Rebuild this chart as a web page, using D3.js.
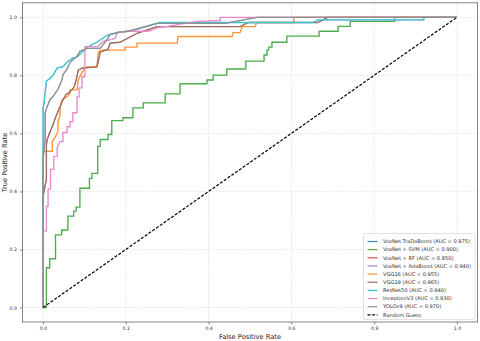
<!DOCTYPE html>
<html><head><meta charset="utf-8">
<script src="https://cdn.jsdelivr.net/npm/d3@7"></script>
<style>html,body{margin:0;padding:0;background:#fff;}svg{display:block;font-family:"DejaVu Sans",sans-serif;}</style>
</head><body><div id="chart"></div>
<script>
// ---- data ----
const seriesNames = ["VoxNet TraDaBoost (AUC = 0.975)","VoxNet + SVM (AUC = 0.900)","VoxNet + RF (AUC = 0.850)","VoxNet + AdaBoost (AUC = 0.940)","VGG16 (AUC = 0.955)","VGG19 (AUC = 0.965)","ResNet50 (AUC = 0.940)","InceptionV3 (AUC = 0.930)","YOLOv9 (AUC = 0.970)"];
const seriesColors = ["#1f77b4","#2ca02c","#d62728","#9467bd","#ff7f0e","#8c564b","#17becf","#e377c2","#7f7f7f"];
const xTicks = [0,0.2,0.4,0.6,0.8,1.0];
const yTicks = [0,0.2,0.4,0.6,0.8,1.0];

const yoloFpr = [0,0,0.005,0.005,0.01,0.017,0.024,0.036,0.046,0.048,0.058,0.065,0.082,0.089,0.106,0.138,0.155,0.162,0.181,0.205,0.222,0.275,0.44,0.517,1];
const yoloTpr = [0,0.51,0.58,0.672,0.693,0.717,0.727,0.752,0.786,0.803,0.821,0.845,0.866,0.883,0.893,0.893,0.924,0.941,0.948,0.952,0.958,0.979,0.979,1,1];

const tradaFpr = [0,0,0.005,0.005,0.01,0.017,0.024,0.036,0.046,0.048,0.058,0.065,0.082,0.089,0.106,0.138,0.155,0.162,0.181,0.205,0.222,0.275,0.44,0.517,1];
const tradaTpr = [0,0.51,0.58,0.672,0.693,0.717,0.727,0.752,0.786,0.803,0.821,0.845,0.866,0.883,0.893,0.893,0.924,0.941,0.948,0.952,0.958,0.979,0.979,1,1];

const svmFpr = [0,0.008,0.016,0.03,0.045,0.06,0.074,0.08,0.089,0.112,0.118,0.132,0.138,0.157,0.166,0.193,0.217,0.242,0.295,0.331,0.396,0.411,0.444,0.49,0.534,0.541,0.545,0.553,0.589,0.667,0.713,0.742,0.85,1];
const svmTpr = [0,0.137,0.168,0.25,0.267,0.315,0.332,0.346,0.411,0.445,0.462,0.555,0.579,0.596,0.644,0.654,0.688,0.705,0.736,0.771,0.784,0.801,0.822,0.849,0.870,0.887,0.897,0.914,0.935,0.952,0.969,0.986,1,1];

const vgg19Fpr = [0,0,0.008,0.008,0.01,0.017,0.024,0.031,0.041,0.048,0.055,0.065,0.075,0.08,0.085,0.094,0.13,0.133,0.138,0.157,0.162,0.186,0.227,0.275,0.476,0.495,0.664,0.688,1];
const vgg19Tpr = [0,0.384,0.442,0.56,0.579,0.606,0.63,0.658,0.692,0.716,0.733,0.743,0.76,0.784,0.818,0.825,0.829,0.846,0.88,0.89,0.911,0.914,0.945,0.968,0.968,0.982,0.982,1,1];

const rfFpr = [0,0,0.008,0.008,0.01,0.017,0.024,0.031,0.041,0.048,0.055,0.065,0.075,0.08,0.085,0.094,0.13,0.133,0.138,0.157,0.162,0.186,0.227,0.275,0.476,0.495,0.664,0.688,1];
const rfTpr = [0,0.384,0.442,0.56,0.579,0.606,0.63,0.658,0.692,0.716,0.733,0.743,0.76,0.784,0.818,0.825,0.829,0.846,0.88,0.89,0.911,0.914,0.945,0.968,0.968,0.982,0.982,1,1];

const resnetFpr = [0,0,0.002,0.005,0.008,0.017,0.024,0.034,0.048,0.058,0.065,0.072,0.082,0.106,0.13,0.155,0.186,0.217,0.283,0.652,0.664,0.92,0.92,1];
const resnetTpr = [0,0.69,0.70,0.74,0.78,0.79,0.80,0.825,0.83,0.846,0.853,0.86,0.863,0.897,0.914,0.938,0.949,0.955,0.982,0.982,0.991,0.991,1,1];

const adaFpr = [0,0,0.002,0.005,0.008,0.017,0.024,0.034,0.048,0.058,0.065,0.072,0.082,0.106,0.13,0.155,0.186,0.217,0.283,0.652,0.664,0.92,0.92,1];
const adaTpr = [0,0.69,0.70,0.74,0.78,0.79,0.80,0.825,0.83,0.846,0.853,0.86,0.863,0.897,0.914,0.938,0.949,0.955,0.982,0.982,0.991,0.991,1,1];

const vgg16Fpr = [0,0,0.022,0.022,0.029,0.036,0.036,0.041,0.041,0.046,0.058,0.065,0.065,0.082,0.085,0.094,0.101,0.106,0.13,0.133,0.138,0.198,0.198,0.227,0.227,0.324,0.326,0.457,0.459,0.476,0.481,0.512,0.517,0.606,0.606,1];
const vgg16Tpr = [0,0.538,0.538,0.572,0.586,0.606,0.637,0.664,0.688,0.716,0.726,0.74,0.75,0.75,0.784,0.81,0.825,0.829,0.829,0.877,0.887,0.887,0.897,0.897,0.911,0.911,0.934,0.934,0.947,0.947,0.968,0.968,0.982,0.982,1,1];

const incFpr = [0,0,0.008,0.008,0.012,0.012,0.018,0.018,0.026,0.026,0.034,0.034,0.041,0.048,0.048,0.058,0.058,0.065,0.065,0.072,0.072,0.082,0.082,0.087,0.087,0.094,0.094,0.101,0.101,0.133,0.145,0.167,0.174,0.179,0.21,0.254,0.278,0.3,0.372,0.428,0.428,1];
const incTpr = [0,0.264,0.264,0.349,0.349,0.408,0.408,0.476,0.476,0.521,0.521,0.551,0.572,0.572,0.603,0.603,0.623,0.623,0.64,0.64,0.671,0.671,0.726,0.726,0.757,0.757,0.795,0.795,0.899,0.899,0.917,0.924,0.928,0.948,0.952,0.952,0.965,0.969,0.986,0.989,1,1];

const randFpr = [0,1];
const randTpr = [0,1];

const seriesFpr = [tradaFpr, svmFpr, rfFpr, adaFpr, vgg16Fpr, vgg19Fpr, resnetFpr, incFpr, yoloFpr];
const seriesTpr = [tradaTpr, svmTpr, rfTpr, adaTpr, vgg16Tpr, vgg19Tpr, resnetTpr, incTpr, yoloTpr];
const seriesStep = [false, true, false, false, false, false, false, false, false];

// ---- layout ----
const W = 480, H = 341;
const L = 22.4, R = 477.6, T = 2.8, B = 322;
const svg = d3.select("#chart").append("svg").attr("width", W).attr("height", H);
const x = d3.scaleLinear().domain([-0.05, 1.05]).range([L, R]);
const y = d3.scaleLinear().domain([-0.05, 1.05]).range([B, T]);

// grid
const g = svg.append("g");
g.selectAll(".gx").data(xTicks).enter().append("line")
  .attr("x1", d => x(d)).attr("x2", d => x(d)).attr("y1", T).attr("y2", B)
  .attr("stroke", "#dcdcdc").attr("stroke-width", 0.6).attr("stroke-dasharray", "2.5,1.2");
g.selectAll(".gy").data(yTicks).enter().append("line")
  .attr("y1", d => y(d)).attr("y2", d => y(d)).attr("x1", L).attr("x2", R)
  .attr("stroke", "#dcdcdc").attr("stroke-width", 0.6).attr("stroke-dasharray", "2.5,1.2");

// axes
const xAxis = d3.axisBottom(x).tickValues(xTicks).tickFormat(d3.format(".1f")).tickSize(2.5).tickPadding(1.8);
const yAxis = d3.axisLeft(y).tickValues(yTicks).tickFormat(d3.format(".1f")).tickSize(2.5).tickPadding(3);
const gx = svg.append("g").attr("transform", `translate(0,${B})`).call(xAxis);
const gy = svg.append("g").attr("transform", `translate(${L},0)`).call(yAxis);
[gx, gy].forEach(a => {
  a.select(".domain").remove();
  a.selectAll("line").attr("stroke", "#555").attr("stroke-width", 0.7);
  a.selectAll("text").attr("fill", "#333").style("font-size", "4.7px").style("font-family", "DejaVu Sans");
});

// curves
svg.append("clipPath").attr("id", "clip").append("rect").attr("x", L).attr("y", T).attr("width", R - L).attr("height", B - T);
const plot = svg.append("g").attr("clip-path", "url(#clip)").attr("opacity", 0.85);
const hiddenBelow = [true, false, true, true, false, false, false, false, false];
seriesNames.forEach((name, i) => {
  const pts = seriesFpr[i].map((f, j) => [f, seriesTpr[i][j]]);
  const line = d3.line().x(d => x(d[0])).y(d => y(d[1])).curve(seriesStep[i] ? d3.curveStepAfter : d3.curveLinear);
  plot.append("path").datum(pts).attr("d", line).attr("fill", "none")
    .attr("stroke", seriesColors[i]).attr("stroke-width", hiddenBelow[i] ? 0.9 : 1.35)
    .attr("stroke-linejoin", "miter");
});
const rpts = randFpr.map((f, j) => [f, randTpr[j]]);
svg.append("path").datum(rpts).attr("d", d3.line().x(d => x(d[0])).y(d => y(d[1])))
  .attr("fill", "none").attr("stroke", "#000").attr("stroke-width", 1.2).attr("stroke-dasharray", "3,1.6");

// frame
svg.append("rect").attr("x", L).attr("y", T).attr("width", R - L).attr("height", B - T)
  .attr("fill", "none").attr("stroke", "#666").attr("stroke-width", 0.8);

// axis titles
svg.append("text").attr("x", (L + R) / 2).attr("y", 339).attr("text-anchor", "middle")
  .style("font-size", "6.7px").attr("fill", "#222").text("False Positive Rate");
svg.append("text").attr("transform", `translate(7,${(T + B) / 2}) rotate(-90)`).attr("text-anchor", "middle")
  .style("font-size", "6.7px").attr("fill", "#222").text("True Positive Rate");

// legend
const legNames = seriesNames.concat(["Random Guess"]);
const legColors = seriesColors.concat(["#000"]);
const lx = 363.5, ly = 233.5, lw = 111.5, lh = 86;
svg.append("rect").attr("x", lx).attr("y", ly).attr("width", lw).attr("height", lh).attr("rx", 1.5)
  .attr("fill", "#fff").attr("fill-opacity", 0.85).attr("stroke", "#ccc").attr("stroke-width", 0.6);
legNames.forEach((n, i) => {
  const cy = ly + 8 + i * 8.15;
  svg.append("line").attr("x1", lx + 4).attr("x2", lx + 14).attr("y1", cy).attr("y2", cy)
    .attr("stroke", legColors[i]).attr("stroke-width", 1.2).attr("stroke-opacity", i < 9 ? 0.85 : 1)
    .attr("stroke-dasharray", i === 9 ? "3,1.6" : null);
  svg.append("text").attr("x", lx + 19.5).attr("y", cy).attr("dy", "0.35em")
    .style("font-size", "5.1px").attr("fill", "#333").text(n);
});
</script></body></html>
